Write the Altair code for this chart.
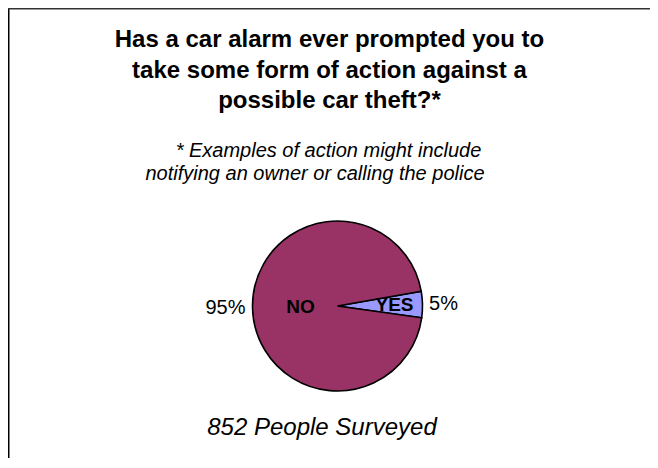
import math
import altair as alt
import pandas as pd

# ---- data ----
categories = ["YES", "NO"]
values = [5, 95]
stack_order = [0, 1]
pct_labels = ["5%", "95%"]
slice_colors = ["#9999FF", "#993366"]

title_lines = [
    "Has a car alarm ever prompted you to",
    "take some form of action against a",
    "possible car theft?*",
]
note_lines = [
    "* Examples of action might include",
    "notifying an owner or calling the police",
]
footer_text = "852 People Surveyed"

FONT = "Liberation Sans"
W, H = 642, 450
CX, CY, R = 329.5, 298, 85
start = math.radians(80)

pie_df = pd.DataFrame(
    {"cat": categories, "value": values, "ord": stack_order, "pct": pct_labels}
)
one = pd.DataFrame({"k": [0]})

theta_scale = alt.Scale(domain=[0, 100], range=[start, start + 2 * math.pi])
color_scale = alt.Scale(domain=categories, range=slice_colors)

base = (
    alt.Chart(pie_df)
    .transform_stack(stack="value", groupby=[], as_=["s0", "s1"],
                     sort=[alt.SortField("ord", order="ascending")])
    .transform_calculate(mid="(datum.s0 + datum.s1) / 2")
)

pie = base.mark_arc(stroke="black", strokeWidth=1.6, radius=R).encode(
    theta=alt.Theta("s0:Q", scale=theta_scale, stack=None),
    theta2="s1:Q",
    color=alt.Color("cat:N", scale=color_scale, legend=None),
    x=alt.value(CX),
    y=alt.value(CY),
)

def inner(cat, r):
    return base.transform_filter(alt.datum.cat == cat).mark_text(
        font=FONT, fontSize=19, fontWeight="bold", color="black",
        align="center", baseline="middle",
    ).encode(
        theta=alt.Theta("mid:Q", scale=theta_scale, stack=None),
        radius=alt.value(r),
        text="cat:N",
        x=alt.value(CX), y=alt.value(CY),
    )

def outer(cat, r):
    return base.transform_filter(alt.datum.cat == cat).mark_text(
        font=FONT, fontSize=20, color="black",
        align="center", baseline="middle",
    ).encode(
        theta=alt.Theta("mid:Q", scale=theta_scale, stack=None),
        radius=alt.value(r),
        text="pct:N",
        x=alt.value(CX), y=alt.value(CY),
    )

title = alt.Chart(one).mark_text(
    font=FONT, fontSize=24, fontWeight="bold", color="black",
    align="center", baseline="alphabetic", lineHeight=30.5,
).encode(text=alt.value(title_lines), x=alt.value(321.5), y=alt.value(39))

note1 = alt.Chart(one).mark_text(
    font=FONT, fontSize=20, fontStyle="italic", color="black",
    align="center", baseline="alphabetic",
).encode(text=alt.value(note_lines[0]), x=alt.value(320.5), y=alt.value(149))

note2 = alt.Chart(one).mark_text(
    font=FONT, fontSize=20, fontStyle="italic", color="black",
    align="center", baseline="alphabetic",
).encode(text=alt.value(note_lines[1]), x=alt.value(307), y=alt.value(172))

footer = alt.Chart(one).mark_text(
    font=FONT, fontSize=24, fontStyle="italic", color="black",
    align="center", baseline="middle",
).encode(text=alt.value(footer_text), x=alt.value(314), y=alt.value(420))

left_border = alt.Chart(one).mark_rule(color="black", strokeWidth=2).encode(
    x=alt.value(0.5), y=alt.value(0), y2=alt.value(H)
)
top_border = alt.Chart(one).mark_rule(color="#333333", strokeWidth=2).encode(
    x=alt.value(0), x2=alt.value(W), y=alt.value(0.5)
)

chart = alt.layer(
    left_border, top_border, pie,
    inner("NO", 37), inner("YES", 57),
    outer("NO", 112), outer("YES", 106),
    title, note1, note2, footer,
).properties(
    width=W, height=H, padding=0, autosize=alt.AutoSizeParams(type="none"),
    background="white",
).configure_view(stroke=None)

chart.save("out.html", embed_options={"renderer": "svg", "actions": False})
